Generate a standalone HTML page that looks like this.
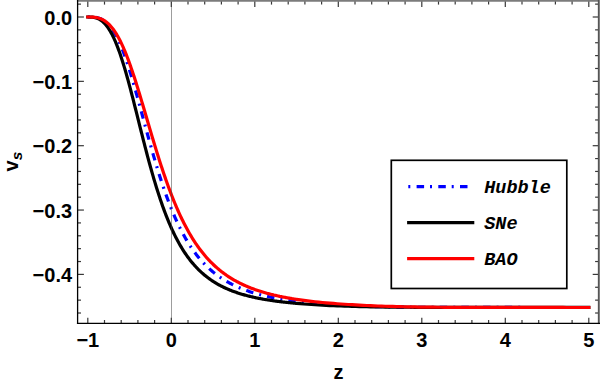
<!DOCTYPE html>
<html><head><meta charset="utf-8"><title>plot</title>
<style>
html,body{margin:0;padding:0;background:#fff;}
body{width:600px;height:384px;overflow:hidden;}
svg{display:block;}
text{font-family:"Liberation Sans",sans-serif;font-weight:bold;font-size:20px;fill:#000;}
.leg text{font-family:"Liberation Mono",monospace;font-weight:bold;font-style:italic;font-size:18.5px;}
</style></head><body>
<svg width="600" height="384" viewBox="0 0 600 384">
<rect x="0" y="0" width="600" height="384" fill="#fff"/>
<g fill="none" stroke-width="3.2" stroke-linecap="square" stroke-linejoin="round">
<path d="M87.80,17.00 L88.61,17.00 L89.41,17.00 L90.22,17.01 L91.02,17.03 L91.83,17.06 L92.64,17.10 L93.44,17.15 L94.25,17.23 L95.05,17.32 L95.86,17.45 L96.67,17.59 L97.47,17.77 L98.28,17.98 L99.08,18.23 L99.89,18.51 L100.70,18.83 L101.50,19.19 L102.31,19.60 L103.11,20.06 L103.92,20.57 L104.73,21.13 L105.53,21.74 L106.34,22.41 L107.14,23.14 L107.95,23.93 L108.76,24.78 L109.56,25.69 L110.37,26.67 L111.17,27.72 L111.98,28.83 L112.79,30.01 L113.59,31.26 L114.40,32.58 L115.20,33.98 L116.01,35.44 L116.82,36.98 L117.62,38.58 L118.43,40.26 L119.23,42.01 L120.04,43.83 L120.85,45.72 L121.65,47.68 L122.46,49.71 L123.26,51.80 L124.07,53.96 L124.88,56.19 L125.68,58.47 L126.49,60.81 L127.29,63.22 L128.10,65.67 L128.91,68.18 L129.71,70.74 L130.52,73.35 L131.32,76.00 L132.13,78.70 L132.94,81.43 L133.74,84.21 L134.55,87.01 L135.35,89.85 L136.16,92.71 L136.97,95.60 L137.77,98.51 L138.58,101.44 L139.38,104.38 L140.19,107.34 L140.99,110.31 L141.80,113.28 L142.61,116.25 L143.41,119.23 L144.22,122.21 L145.02,125.18 L145.83,128.14 L146.64,131.10 L147.44,134.04 L148.25,136.97 L149.05,139.88 L149.86,142.78 L150.67,145.65 L151.47,148.50 L152.28,151.33 L153.08,154.14 L153.89,156.91 L154.70,159.66 L155.50,162.38 L156.31,165.07 L157.11,167.73 L157.92,170.35 L158.73,172.94 L159.53,175.50 L160.34,178.02 L161.14,180.51 L161.95,182.96 L162.76,185.37 L163.56,187.74 L164.37,190.08 L165.17,192.38 L165.98,194.64 L166.79,196.87 L167.59,199.06 L168.40,201.20 L169.20,203.31 L170.01,205.39 L170.82,207.42 L171.62,209.42 L172.43,211.38 L173.23,213.30 L174.04,215.19 L174.85,217.04 L175.65,218.85 L176.46,220.63 L177.26,222.37 L178.07,224.08 L178.88,225.75 L179.68,227.39 L180.49,229.00 L181.29,230.57 L182.10,232.11 L182.91,233.62 L183.71,235.10 L184.52,236.55 L185.32,237.97 L186.13,239.35 L186.94,240.71 L187.74,242.04 L188.55,243.34 L189.35,244.61 L190.16,245.86 L190.97,247.07 L191.77,248.27 L192.58,249.43 L193.38,250.58 L194.19,251.69 L195.00,252.79 L195.80,253.86 L196.61,254.90 L197.41,255.93 L198.22,256.93 L199.03,257.91 L199.83,258.87 L200.64,259.81 L201.44,260.73 L202.25,261.62 L203.06,262.50 L203.86,263.36 L204.67,264.21 L205.47,265.03 L206.28,265.84 L207.09,266.62 L207.89,267.40 L208.70,268.15 L209.50,268.89 L210.31,269.61 L211.12,270.32 L211.92,271.02 L212.73,271.69 L213.53,272.36 L214.34,273.01 L215.15,273.65 L215.95,274.27 L216.76,274.88 L217.56,275.48 L218.37,276.06 L219.18,276.63 L219.98,277.20 L220.79,277.74 L221.59,278.28 L222.40,278.81 L223.21,279.33 L224.01,279.83 L224.82,280.33 L225.62,280.81 L226.43,281.29 L227.24,281.75 L228.04,282.21 L228.85,282.65 L229.65,283.09 L230.46,283.52 L231.27,283.94 L232.07,284.36 L232.88,284.76 L233.68,285.16 L234.49,285.54 L235.30,285.92 L236.10,286.30 L236.91,286.66 L237.71,287.02 L238.52,287.37 L239.33,287.72 L240.13,288.06 L240.94,288.39 L241.74,288.72 L242.55,289.04 L243.36,289.35 L244.16,289.66 L244.97,289.96 L245.77,290.25 L246.58,290.54 L247.38,290.83 L248.19,291.11 L249.00,291.38 L249.80,291.65 L250.61,291.92 L251.41,292.18 L252.22,292.43 L253.03,292.68 L253.83,292.93 L254.64,293.17 L255.44,293.40 L256.25,293.64 L257.06,293.86 L257.86,294.09 L258.67,294.31 L259.47,294.52 L260.28,294.74 L261.09,294.95 L261.89,295.15 L262.70,295.35 L263.50,295.55 L264.31,295.74 L265.12,295.94 L265.92,296.12 L266.73,296.31 L267.53,296.49 L268.34,296.67 L269.15,296.84 L269.95,297.01 L270.76,297.18 L271.56,297.35 L272.37,297.51 L273.18,297.67 L273.98,297.83 L274.79,297.99 L275.59,298.14 L276.40,298.29 L277.21,298.44 L278.01,298.59 L278.82,298.73 L279.62,298.87 L280.43,299.01 L281.24,299.14 L282.04,299.28 L282.85,299.41 L283.65,299.54 L284.46,299.67 L285.27,299.79 L286.07,299.92 L286.88,300.04 L287.68,300.16 L288.49,300.28 L289.30,300.39 L290.10,300.51 L290.91,300.62 L291.71,300.73 L292.52,300.84 L293.33,300.95 L294.13,301.05 L294.94,301.16 L295.74,301.26 L296.55,301.36 L300.25,301.80 L303.95,302.22 L307.65,302.61 L311.35,302.97 L315.05,303.31 L318.75,303.62 L322.45,303.92 L326.14,304.20 L329.84,304.46 L333.54,304.71 L337.24,304.94 L340.94,305.16 L344.64,305.36 L348.34,305.55 L352.04,305.73 L355.74,305.90 L359.44,306.06 L363.14,306.20 L366.84,306.34 L370.54,306.46 L374.24,306.57 L377.94,306.68 L381.64,306.77 L385.33,306.85 L389.03,306.93 L392.73,307.00 L396.43,307.06 L400.13,307.11 L403.83,307.16 L407.53,307.20 L411.23,307.23 L414.93,307.26 L418.63,307.29 L422.33,307.31 L426.03,307.33 L429.73,307.35 L433.43,307.36 L437.13,307.38 L440.83,307.39 L444.52,307.40 L448.22,307.41 L451.92,307.42 L455.62,307.42 L459.32,307.43 L463.02,307.43 L466.72,307.44 L470.42,307.44 L474.12,307.45 L477.82,307.45 L481.52,307.45 L485.22,307.46 L488.92,307.46 L492.62,307.46 L496.32,307.46 L500.02,307.47 L503.71,307.47 L507.41,307.47 L511.11,307.47 L514.81,307.47 L518.51,307.47 L522.21,307.48 L525.91,307.48 L529.61,307.48 L533.31,307.48 L537.01,307.48 L540.71,307.48 L544.41,307.48 L548.11,307.48 L551.81,307.48 L555.51,307.48 L559.21,307.48 L562.90,307.48 L566.60,307.48 L570.30,307.48 L574.00,307.49 L577.70,307.49 L581.40,307.49 L585.10,307.49 L588.80,307.49" stroke="#0000ff" stroke-dasharray="2 6.08 7.5 6.08" stroke-linecap="butt"/>
<path d="M87.80,17.00 L88.61,17.00 L89.41,17.01 L90.22,17.03 L91.02,17.07 L91.83,17.12 L92.64,17.20 L93.44,17.31 L94.25,17.45 L95.05,17.63 L95.86,17.84 L96.67,18.10 L97.47,18.40 L98.28,18.75 L99.08,19.15 L99.89,19.60 L100.70,20.11 L101.50,20.67 L102.31,21.30 L103.11,21.99 L103.92,22.75 L104.73,23.58 L105.53,24.48 L106.34,25.44 L107.14,26.49 L107.95,27.60 L108.76,28.80 L109.56,30.07 L110.37,31.42 L111.17,32.84 L111.98,34.35 L112.79,35.94 L113.59,37.61 L114.40,39.37 L115.20,41.20 L116.01,43.11 L116.82,45.10 L117.62,47.17 L118.43,49.31 L119.23,51.54 L120.04,53.83 L120.85,56.20 L121.65,58.64 L122.46,61.15 L123.26,63.73 L124.07,66.37 L124.88,69.07 L125.68,71.82 L126.49,74.64 L127.29,77.50 L128.10,80.41 L128.91,83.37 L129.71,86.37 L130.52,89.41 L131.32,92.49 L132.13,95.59 L132.94,98.72 L133.74,101.88 L134.55,105.05 L135.35,108.24 L136.16,111.45 L136.97,114.66 L137.77,117.88 L138.58,121.10 L139.38,124.32 L140.19,127.54 L140.99,130.74 L141.80,133.94 L142.61,137.13 L143.41,140.29 L144.22,143.44 L145.02,146.57 L145.83,149.67 L146.64,152.75 L147.44,155.79 L148.25,158.81 L149.05,161.79 L149.86,164.74 L150.67,167.66 L151.47,170.54 L152.28,173.38 L153.08,176.18 L153.89,178.94 L154.70,181.65 L155.50,184.33 L156.31,186.96 L157.11,189.55 L157.92,192.09 L158.73,194.59 L159.53,197.05 L160.34,199.46 L161.14,201.82 L161.95,204.14 L162.76,206.42 L163.56,208.65 L164.37,210.83 L165.17,212.97 L165.98,215.07 L166.79,217.12 L167.59,219.13 L168.40,221.10 L169.20,223.02 L170.01,224.91 L170.82,226.75 L171.62,228.55 L172.43,230.31 L173.23,232.03 L174.04,233.71 L174.85,235.35 L175.65,236.95 L176.46,238.52 L177.26,240.05 L178.07,241.55 L178.88,243.01 L179.68,244.43 L180.49,245.83 L181.29,247.18 L182.10,248.51 L182.91,249.81 L183.71,251.07 L184.52,252.31 L185.32,253.51 L186.13,254.69 L186.94,255.84 L187.74,256.96 L188.55,258.05 L189.35,259.12 L190.16,260.16 L190.97,261.17 L191.77,262.17 L192.58,263.14 L193.38,264.08 L194.19,265.00 L195.00,265.90 L195.80,266.78 L196.61,267.64 L197.41,268.48 L198.22,269.29 L199.03,270.09 L199.83,270.87 L200.64,271.63 L201.44,272.37 L202.25,273.10 L203.06,273.81 L203.86,274.50 L204.67,275.17 L205.47,275.83 L206.28,276.47 L207.09,277.10 L207.89,277.72 L208.70,278.32 L209.50,278.90 L210.31,279.47 L211.12,280.03 L211.92,280.58 L212.73,281.11 L213.53,281.64 L214.34,282.14 L215.15,282.64 L215.95,283.13 L216.76,283.61 L217.56,284.07 L218.37,284.53 L219.18,284.97 L219.98,285.40 L220.79,285.83 L221.59,286.24 L222.40,286.65 L223.21,287.05 L224.01,287.44 L224.82,287.82 L225.62,288.19 L226.43,288.55 L227.24,288.91 L228.04,289.26 L228.85,289.60 L229.65,289.93 L230.46,290.26 L231.27,290.58 L232.07,290.89 L232.88,291.20 L233.68,291.50 L234.49,291.79 L235.30,292.08 L236.10,292.36 L236.91,292.63 L237.71,292.90 L238.52,293.17 L239.33,293.43 L240.13,293.68 L240.94,293.93 L241.74,294.17 L242.55,294.41 L243.36,294.64 L244.16,294.87 L244.97,295.10 L245.77,295.32 L246.58,295.53 L247.38,295.74 L248.19,295.95 L249.00,296.15 L249.80,296.35 L250.61,296.55 L251.41,296.74 L252.22,296.93 L253.03,297.11 L253.83,297.29 L254.64,297.47 L255.44,297.64 L256.25,297.82 L257.06,297.98 L257.86,298.15 L258.67,298.31 L259.47,298.47 L260.28,298.62 L261.09,298.77 L261.89,298.92 L262.70,299.07 L263.50,299.21 L264.31,299.36 L265.12,299.49 L265.92,299.63 L266.73,299.76 L267.53,299.90 L268.34,300.03 L269.15,300.15 L269.95,300.28 L270.76,300.40 L271.56,300.52 L272.37,300.64 L273.18,300.75 L273.98,300.87 L274.79,300.98 L275.59,301.09 L276.40,301.20 L277.21,301.30 L278.01,301.41 L278.82,301.51 L279.62,301.61 L280.43,301.71 L281.24,301.81 L282.04,301.90 L282.85,302.00 L283.65,302.09 L284.46,302.18 L285.27,302.27 L286.07,302.36 L286.88,302.45 L287.68,302.53 L288.49,302.62 L289.30,302.70 L290.10,302.78 L290.91,302.86 L291.71,302.94 L292.52,303.02 L293.33,303.09 L294.13,303.17 L294.94,303.24 L295.74,303.31 L296.55,303.38 L300.25,303.70 L303.95,303.99 L307.65,304.26 L311.35,304.51 L315.05,304.75 L318.75,304.97 L322.45,305.18 L326.14,305.37 L329.84,305.55 L333.54,305.71 L337.24,305.87 L340.94,306.01 L344.64,306.14 L348.34,306.27 L352.04,306.38 L355.74,306.49 L359.44,306.58 L363.14,306.67 L366.84,306.75 L370.54,306.82 L374.24,306.88 L377.94,306.94 L381.64,307.00 L385.33,307.04 L389.03,307.08 L392.73,307.12 L396.43,307.16 L400.13,307.19 L403.83,307.21 L407.53,307.24 L411.23,307.26 L414.93,307.28 L418.63,307.29 L422.33,307.31 L426.03,307.32 L429.73,307.33 L433.43,307.35 L437.13,307.36 L440.83,307.36 L444.52,307.37 L448.22,307.38 L451.92,307.39 L455.62,307.39 L459.32,307.40 L463.02,307.40 L466.72,307.41 L470.42,307.41 L474.12,307.42 L477.82,307.42 L481.52,307.42 L485.22,307.43 L488.92,307.43 L492.62,307.43 L496.32,307.43 L500.02,307.44 L503.71,307.44 L507.41,307.44 L511.11,307.44 L514.81,307.44 L518.51,307.45 L522.21,307.45 L525.91,307.45 L529.61,307.45 L533.31,307.45 L537.01,307.45 L540.71,307.45 L544.41,307.46 L548.11,307.46 L551.81,307.46 L555.51,307.46 L559.21,307.46 L562.90,307.46 L566.60,307.46 L570.30,307.46 L574.00,307.46 L577.70,307.46 L581.40,307.46 L585.10,307.46 L588.80,307.46" stroke="#000"/>
<path d="M87.80,17.00 L88.61,17.00 L89.41,17.00 L90.22,17.01 L91.02,17.03 L91.83,17.06 L92.64,17.11 L93.44,17.16 L94.25,17.24 L95.05,17.34 L95.86,17.46 L96.67,17.60 L97.47,17.78 L98.28,17.98 L99.08,18.21 L99.89,18.48 L100.70,18.78 L101.50,19.12 L102.31,19.49 L103.11,19.91 L103.92,20.37 L104.73,20.88 L105.53,21.43 L106.34,22.03 L107.14,22.67 L107.95,23.37 L108.76,24.12 L109.56,24.93 L110.37,25.78 L111.17,26.70 L111.98,27.67 L112.79,28.69 L113.59,29.78 L114.40,30.92 L115.20,32.12 L116.01,33.39 L116.82,34.71 L117.62,36.09 L118.43,37.54 L119.23,39.04 L120.04,40.60 L120.85,42.23 L121.65,43.91 L122.46,45.65 L123.26,47.45 L124.07,49.31 L124.88,51.22 L125.68,53.19 L126.49,55.21 L127.29,57.29 L128.10,59.42 L128.91,61.59 L129.71,63.82 L130.52,66.09 L131.32,68.40 L132.13,70.76 L132.94,73.16 L133.74,75.59 L134.55,78.07 L135.35,80.57 L136.16,83.11 L136.97,85.68 L137.77,88.28 L138.58,90.90 L139.38,93.55 L140.19,96.21 L140.99,98.89 L141.80,101.59 L142.61,104.31 L143.41,107.03 L144.22,109.76 L145.02,112.50 L145.83,115.24 L146.64,117.99 L147.44,120.73 L148.25,123.48 L149.05,126.22 L149.86,128.95 L150.67,131.67 L151.47,134.39 L152.28,137.09 L153.08,139.78 L153.89,142.46 L154.70,145.12 L155.50,147.76 L156.31,150.38 L157.11,152.98 L157.92,155.56 L158.73,158.12 L159.53,160.65 L160.34,163.16 L161.14,165.64 L161.95,168.09 L162.76,170.52 L163.56,172.92 L164.37,175.29 L165.17,177.63 L165.98,179.93 L166.79,182.21 L167.59,184.46 L168.40,186.68 L169.20,188.86 L170.01,191.01 L170.82,193.13 L171.62,195.22 L172.43,197.28 L173.23,199.30 L174.04,201.29 L174.85,203.25 L175.65,205.18 L176.46,207.07 L177.26,208.93 L178.07,210.76 L178.88,212.56 L179.68,214.33 L180.49,216.06 L181.29,217.77 L182.10,219.44 L182.91,221.08 L183.71,222.70 L184.52,224.28 L185.32,225.83 L186.13,227.36 L186.94,228.85 L187.74,230.32 L188.55,231.76 L189.35,233.17 L190.16,234.56 L190.97,235.91 L191.77,237.24 L192.58,238.55 L193.38,239.83 L194.19,241.09 L195.00,242.32 L195.80,243.52 L196.61,244.70 L197.41,245.86 L198.22,247.00 L199.03,248.11 L199.83,249.20 L200.64,250.27 L201.44,251.32 L202.25,252.34 L203.06,253.35 L203.86,254.34 L204.67,255.30 L205.47,256.25 L206.28,257.18 L207.09,258.09 L207.89,258.98 L208.70,259.85 L209.50,260.71 L210.31,261.54 L211.12,262.37 L211.92,263.17 L212.73,263.96 L213.53,264.73 L214.34,265.49 L215.15,266.23 L215.95,266.96 L216.76,267.67 L217.56,268.37 L218.37,269.06 L219.18,269.73 L219.98,270.39 L220.79,271.03 L221.59,271.67 L222.40,272.29 L223.21,272.90 L224.01,273.49 L224.82,274.08 L225.62,274.65 L226.43,275.21 L227.24,275.76 L228.04,276.30 L228.85,276.83 L229.65,277.35 L230.46,277.86 L231.27,278.36 L232.07,278.85 L232.88,279.33 L233.68,279.80 L234.49,280.27 L235.30,280.72 L236.10,281.16 L236.91,281.60 L237.71,282.03 L238.52,282.45 L239.33,282.86 L240.13,283.27 L240.94,283.66 L241.74,284.05 L242.55,284.44 L243.36,284.81 L244.16,285.18 L244.97,285.54 L245.77,285.90 L246.58,286.25 L247.38,286.59 L248.19,286.92 L249.00,287.25 L249.80,287.58 L250.61,287.90 L251.41,288.21 L252.22,288.52 L253.03,288.82 L253.83,289.11 L254.64,289.40 L255.44,289.69 L256.25,289.97 L257.06,290.25 L257.86,290.52 L258.67,290.78 L259.47,291.04 L260.28,291.30 L261.09,291.55 L261.89,291.80 L262.70,292.05 L263.50,292.29 L264.31,292.52 L265.12,292.75 L265.92,292.98 L266.73,293.20 L267.53,293.42 L268.34,293.64 L269.15,293.85 L269.95,294.06 L270.76,294.27 L271.56,294.47 L272.37,294.67 L273.18,294.86 L273.98,295.06 L274.79,295.24 L275.59,295.43 L276.40,295.61 L277.21,295.79 L278.01,295.97 L278.82,296.14 L279.62,296.32 L280.43,296.48 L281.24,296.65 L282.04,296.81 L282.85,296.97 L283.65,297.13 L284.46,297.29 L285.27,297.44 L286.07,297.59 L286.88,297.74 L287.68,297.89 L288.49,298.03 L289.30,298.17 L290.10,298.31 L290.91,298.45 L291.71,298.58 L292.52,298.72 L293.33,298.85 L294.13,298.98 L294.94,299.10 L295.74,299.23 L296.55,299.35 L300.25,299.90 L303.95,300.40 L307.65,300.88 L311.35,301.32 L315.05,301.73 L318.75,302.12 L322.45,302.49 L326.14,302.83 L329.84,303.15 L333.54,303.45 L337.24,303.74 L340.94,304.01 L344.64,304.26 L348.34,304.50 L352.04,304.72 L355.74,304.94 L359.44,305.14 L363.14,305.33 L366.84,305.50 L370.54,305.67 L374.24,305.83 L377.94,305.98 L381.64,306.11 L385.33,306.24 L389.03,306.36 L392.73,306.47 L396.43,306.58 L400.13,306.67 L403.83,306.76 L407.53,306.84 L411.23,306.91 L414.93,306.97 L418.63,307.03 L422.33,307.08 L426.03,307.12 L429.73,307.16 L433.43,307.20 L437.13,307.23 L440.83,307.26 L444.52,307.28 L448.22,307.30 L451.92,307.32 L455.62,307.34 L459.32,307.35 L463.02,307.37 L466.72,307.38 L470.42,307.39 L474.12,307.40 L477.82,307.41 L481.52,307.41 L485.22,307.42 L488.92,307.42 L492.62,307.43 L496.32,307.43 L500.02,307.44 L503.71,307.44 L507.41,307.45 L511.11,307.45 L514.81,307.45 L518.51,307.46 L522.21,307.46 L525.91,307.46 L529.61,307.46 L533.31,307.46 L537.01,307.47 L540.71,307.47 L544.41,307.47 L548.11,307.47 L551.81,307.47 L555.51,307.47 L559.21,307.47 L562.90,307.47 L566.60,307.48 L570.30,307.48 L574.00,307.48 L577.70,307.48 L581.40,307.48 L585.10,307.48 L588.80,307.48" stroke="#ff0000"/>
</g>
<line x1="171.50" y1="0.8" x2="171.50" y2="323.4" stroke="#444" stroke-opacity="0.75" stroke-width="0.7"/>
<g stroke="#383838" stroke-width="1.2">
<line x1="87.80" y1="323.4" x2="87.80" y2="317.70"/>
<line x1="87.80" y1="0.8" x2="87.80" y2="7.00"/>
<line x1="104.50" y1="323.4" x2="104.50" y2="320.00"/>
<line x1="104.50" y1="0.8" x2="104.50" y2="4.60"/>
<line x1="121.20" y1="323.4" x2="121.20" y2="320.00"/>
<line x1="121.20" y1="0.8" x2="121.20" y2="4.60"/>
<line x1="137.90" y1="323.4" x2="137.90" y2="320.00"/>
<line x1="137.90" y1="0.8" x2="137.90" y2="4.60"/>
<line x1="154.60" y1="323.4" x2="154.60" y2="320.00"/>
<line x1="154.60" y1="0.8" x2="154.60" y2="4.60"/>
<line x1="171.30" y1="323.4" x2="171.30" y2="317.70"/>
<line x1="171.30" y1="0.8" x2="171.30" y2="7.00"/>
<line x1="188.00" y1="323.4" x2="188.00" y2="320.00"/>
<line x1="188.00" y1="0.8" x2="188.00" y2="4.60"/>
<line x1="204.70" y1="323.4" x2="204.70" y2="320.00"/>
<line x1="204.70" y1="0.8" x2="204.70" y2="4.60"/>
<line x1="221.40" y1="323.4" x2="221.40" y2="320.00"/>
<line x1="221.40" y1="0.8" x2="221.40" y2="4.60"/>
<line x1="238.10" y1="323.4" x2="238.10" y2="320.00"/>
<line x1="238.10" y1="0.8" x2="238.10" y2="4.60"/>
<line x1="254.80" y1="323.4" x2="254.80" y2="317.70"/>
<line x1="254.80" y1="0.8" x2="254.80" y2="7.00"/>
<line x1="271.50" y1="323.4" x2="271.50" y2="320.00"/>
<line x1="271.50" y1="0.8" x2="271.50" y2="4.60"/>
<line x1="288.20" y1="323.4" x2="288.20" y2="320.00"/>
<line x1="288.20" y1="0.8" x2="288.20" y2="4.60"/>
<line x1="304.90" y1="323.4" x2="304.90" y2="320.00"/>
<line x1="304.90" y1="0.8" x2="304.90" y2="4.60"/>
<line x1="321.60" y1="323.4" x2="321.60" y2="320.00"/>
<line x1="321.60" y1="0.8" x2="321.60" y2="4.60"/>
<line x1="338.30" y1="323.4" x2="338.30" y2="317.70"/>
<line x1="338.30" y1="0.8" x2="338.30" y2="7.00"/>
<line x1="355.00" y1="323.4" x2="355.00" y2="320.00"/>
<line x1="355.00" y1="0.8" x2="355.00" y2="4.60"/>
<line x1="371.70" y1="323.4" x2="371.70" y2="320.00"/>
<line x1="371.70" y1="0.8" x2="371.70" y2="4.60"/>
<line x1="388.40" y1="323.4" x2="388.40" y2="320.00"/>
<line x1="388.40" y1="0.8" x2="388.40" y2="4.60"/>
<line x1="405.10" y1="323.4" x2="405.10" y2="320.00"/>
<line x1="405.10" y1="0.8" x2="405.10" y2="4.60"/>
<line x1="421.80" y1="323.4" x2="421.80" y2="317.70"/>
<line x1="421.80" y1="0.8" x2="421.80" y2="7.00"/>
<line x1="438.50" y1="323.4" x2="438.50" y2="320.00"/>
<line x1="438.50" y1="0.8" x2="438.50" y2="4.60"/>
<line x1="455.20" y1="323.4" x2="455.20" y2="320.00"/>
<line x1="455.20" y1="0.8" x2="455.20" y2="4.60"/>
<line x1="471.90" y1="323.4" x2="471.90" y2="320.00"/>
<line x1="471.90" y1="0.8" x2="471.90" y2="4.60"/>
<line x1="488.60" y1="323.4" x2="488.60" y2="320.00"/>
<line x1="488.60" y1="0.8" x2="488.60" y2="4.60"/>
<line x1="505.30" y1="323.4" x2="505.30" y2="317.70"/>
<line x1="505.30" y1="0.8" x2="505.30" y2="7.00"/>
<line x1="522.00" y1="323.4" x2="522.00" y2="320.00"/>
<line x1="522.00" y1="0.8" x2="522.00" y2="4.60"/>
<line x1="538.70" y1="323.4" x2="538.70" y2="320.00"/>
<line x1="538.70" y1="0.8" x2="538.70" y2="4.60"/>
<line x1="555.40" y1="323.4" x2="555.40" y2="320.00"/>
<line x1="555.40" y1="0.8" x2="555.40" y2="4.60"/>
<line x1="572.10" y1="323.4" x2="572.10" y2="320.00"/>
<line x1="572.10" y1="0.8" x2="572.10" y2="4.60"/>
<line x1="588.80" y1="323.4" x2="588.80" y2="317.70"/>
<line x1="588.80" y1="0.8" x2="588.80" y2="7.00"/>
<line x1="77.6" y1="313.01" x2="81.00" y2="313.01"/>
<line x1="598.9" y1="313.01" x2="595.10" y2="313.01"/>
<line x1="77.6" y1="300.14" x2="81.00" y2="300.14"/>
<line x1="598.9" y1="300.14" x2="595.10" y2="300.14"/>
<line x1="77.6" y1="287.27" x2="81.00" y2="287.27"/>
<line x1="598.9" y1="287.27" x2="595.10" y2="287.27"/>
<line x1="77.6" y1="274.40" x2="83.90" y2="274.40"/>
<line x1="598.9" y1="274.40" x2="592.70" y2="274.40"/>
<line x1="77.6" y1="261.53" x2="81.00" y2="261.53"/>
<line x1="598.9" y1="261.53" x2="595.10" y2="261.53"/>
<line x1="77.6" y1="248.66" x2="81.00" y2="248.66"/>
<line x1="598.9" y1="248.66" x2="595.10" y2="248.66"/>
<line x1="77.6" y1="235.79" x2="81.00" y2="235.79"/>
<line x1="598.9" y1="235.79" x2="595.10" y2="235.79"/>
<line x1="77.6" y1="222.92" x2="81.00" y2="222.92"/>
<line x1="598.9" y1="222.92" x2="595.10" y2="222.92"/>
<line x1="77.6" y1="210.05" x2="83.90" y2="210.05"/>
<line x1="598.9" y1="210.05" x2="592.70" y2="210.05"/>
<line x1="77.6" y1="197.18" x2="81.00" y2="197.18"/>
<line x1="598.9" y1="197.18" x2="595.10" y2="197.18"/>
<line x1="77.6" y1="184.31" x2="81.00" y2="184.31"/>
<line x1="598.9" y1="184.31" x2="595.10" y2="184.31"/>
<line x1="77.6" y1="171.44" x2="81.00" y2="171.44"/>
<line x1="598.9" y1="171.44" x2="595.10" y2="171.44"/>
<line x1="77.6" y1="158.57" x2="81.00" y2="158.57"/>
<line x1="598.9" y1="158.57" x2="595.10" y2="158.57"/>
<line x1="77.6" y1="145.70" x2="83.90" y2="145.70"/>
<line x1="598.9" y1="145.70" x2="592.70" y2="145.70"/>
<line x1="77.6" y1="132.83" x2="81.00" y2="132.83"/>
<line x1="598.9" y1="132.83" x2="595.10" y2="132.83"/>
<line x1="77.6" y1="119.96" x2="81.00" y2="119.96"/>
<line x1="598.9" y1="119.96" x2="595.10" y2="119.96"/>
<line x1="77.6" y1="107.09" x2="81.00" y2="107.09"/>
<line x1="598.9" y1="107.09" x2="595.10" y2="107.09"/>
<line x1="77.6" y1="94.22" x2="81.00" y2="94.22"/>
<line x1="598.9" y1="94.22" x2="595.10" y2="94.22"/>
<line x1="77.6" y1="81.35" x2="83.90" y2="81.35"/>
<line x1="598.9" y1="81.35" x2="592.70" y2="81.35"/>
<line x1="77.6" y1="68.48" x2="81.00" y2="68.48"/>
<line x1="598.9" y1="68.48" x2="595.10" y2="68.48"/>
<line x1="77.6" y1="55.61" x2="81.00" y2="55.61"/>
<line x1="598.9" y1="55.61" x2="595.10" y2="55.61"/>
<line x1="77.6" y1="42.74" x2="81.00" y2="42.74"/>
<line x1="598.9" y1="42.74" x2="595.10" y2="42.74"/>
<line x1="77.6" y1="29.87" x2="81.00" y2="29.87"/>
<line x1="598.9" y1="29.87" x2="595.10" y2="29.87"/>
<line x1="77.6" y1="17.00" x2="83.90" y2="17.00"/>
<line x1="598.9" y1="17.00" x2="592.70" y2="17.00"/>
<line x1="77.6" y1="4.13" x2="81.00" y2="4.13"/>
<line x1="598.9" y1="4.13" x2="595.10" y2="4.13"/>
</g>
<rect x="76.94999999999999" y="0" width="523.05" height="1.75" fill="#7c7c7c"/>
<rect x="597.85" y="0" width="1.15" height="324.04999999999995" fill="#555"/>
<rect x="599" y="0" width="1" height="324.04999999999995" fill="#808080"/>
<line x1="77.6" y1="0" x2="77.6" y2="324.04999999999995" stroke="#000" stroke-width="1.3"/>
<line x1="76.94999999999999" y1="323.4" x2="600" y2="323.4" stroke="#000" stroke-width="1.3"/>
<g>
<text x="87.80" y="347.0" text-anchor="middle">−1</text>
<text x="171.30" y="347.0" text-anchor="middle">0</text>
<text x="254.80" y="347.0" text-anchor="middle">1</text>
<text x="338.30" y="347.0" text-anchor="middle">2</text>
<text x="421.80" y="347.0" text-anchor="middle">3</text>
<text x="505.30" y="347.0" text-anchor="middle">4</text>
<text x="588.80" y="347.0" text-anchor="middle">5</text>
<text x="72.1" y="24.70" text-anchor="end">0.0</text>
<text x="72.1" y="89.05" text-anchor="end">−0.1</text>
<text x="72.1" y="153.40" text-anchor="end">−0.2</text>
<text x="72.1" y="217.75" text-anchor="end">−0.3</text>
<text x="72.1" y="282.10" text-anchor="end">−0.4</text>
<text x="338.4" y="379.2" text-anchor="middle">z</text>
<g transform="translate(17.8,171.4) rotate(-90)"><text x="0" y="0">v<tspan font-style="italic" font-size="15.5px" dy="4.1">s</tspan></text></g>
</g>
<g class="leg">
<rect x="391.3" y="160.3" width="175.5" height="128.2" fill="#fff" stroke="#000" stroke-width="1.7"/>
<line x1="408.3" y1="186.6" x2="467.5" y2="186.6" stroke="#0000ff" stroke-width="3.2" stroke-dasharray="2 6.3 7.5 5.9"/>
<line x1="408.7" y1="222.6" x2="472.7" y2="222.6" stroke="#000" stroke-width="3.2" stroke-linecap="square"/>
<line x1="408.7" y1="258.6" x2="472.7" y2="258.6" stroke="#ff0000" stroke-width="3.2" stroke-linecap="square"/>
<text x="484.2" y="192.8">Hubble</text>
<text x="484.2" y="228.8">SNe</text>
<text x="484.2" y="264.8">BAO</text>
</g>
</svg>
</body></html>
